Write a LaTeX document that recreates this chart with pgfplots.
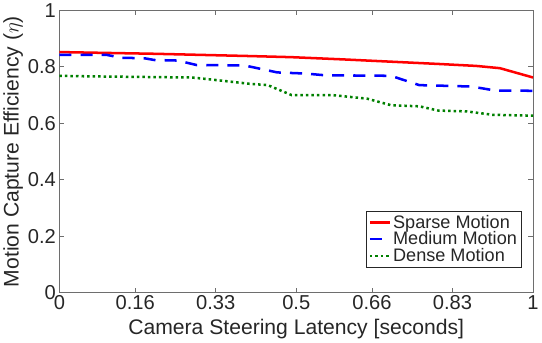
\documentclass[border=0pt]{standalone}
\usepackage{pgfplots}
\pgfplotsset{compat=1.18}
\usepackage{fontspec}
\setmainfont{Liberation Sans}
\setsansfont{Liberation Sans}
\definecolor{txt}{HTML}{262626}
\definecolor{axc}{HTML}{6E6E6E}
\definecolor{mgreen}{HTML}{008000}
\begin{document}
\begin{tikzpicture}
\begin{axis}[
  scale only axis, width=471bp, height=281bp,
  xmin=0, xmax=1, ymin=0, ymax=1,
  xtick={0,0.16,0.33,0.5,0.66,0.83,1},
  xticklabels={0,0.16,0.33,0.5,0.66,0.83,1},
  ytick={0,0.2,0.4,0.6,0.8,1},
  yticklabels={0,0.2,0.4,0.6,0.8,1},
  tick align=inside, major tick length=5bp,
  axis line style={axc, line width=0.8bp}, tick style={axc, line width=0.8bp},
  every tick label/.append style={text=txt, font=\fontsize{20bp}{23bp}\selectfont},
  xticklabel style={yshift=1bp},
  label style={text=txt, font=\fontsize{21bp}{25bp}\selectfont},
  xlabel={Camera Steering Latency [seconds]},
  ylabel={Motion Capture Efficiency ($\eta$)},
  xlabel style={yshift=-3bp},
  ylabel style={yshift=-2bp},
  legend style={at={(0.975,0.09)}, anchor=south east, draw=txt, line width=0.6bp,
    font=\fontsize{18bp}{20bp}\selectfont, text=txt, inner sep=2bp, row sep=-2bp},
  legend cell align=left,
  legend image code/.code={\draw[#1] (0bp,0bp) -- (20bp,0bp);},
]
\addplot[red, line width=2.5bp] coordinates {
 (0,0.852) (0.1,0.849) (0.2,0.846) (0.3,0.842) (0.4,0.838) (0.49,0.834)
 (0.6,0.826) (0.7,0.818) (0.8,0.81) (0.88,0.803) (0.93,0.795) (1,0.762)};
\addlegendentry{Sparse Motion}
\addplot[blue, line width=2.5bp, dash pattern=on 12bp off 9bp] coordinates {
 (0,0.842) (0.1,0.842) (0.13,0.832) (0.18,0.830) (0.2,0.824) (0.25,0.822)
 (0.29,0.806) (0.39,0.805) (0.46,0.78) (0.52,0.776) (0.56,0.77) (0.7,0.768)
 (0.76,0.735) (0.83,0.732) (0.87,0.73) (0.92,0.716) (1,0.715)};
\addlegendentry{Medium Motion}
\addplot[mgreen, line width=2.5bp, dash pattern=on 2.5bp off 3bp] coordinates {
 (0,0.768) (0.066,0.766) (0.28,0.762) (0.32,0.755) (0.4,0.74) (0.44,0.735)
 (0.49,0.70) (0.575,0.70) (0.65,0.687) (0.70,0.664) (0.76,0.66) (0.80,0.645)
 (0.86,0.642) (0.915,0.630) (1,0.627)};
\addlegendentry{Dense Motion}
\end{axis}
\end{tikzpicture}
\end{document}
